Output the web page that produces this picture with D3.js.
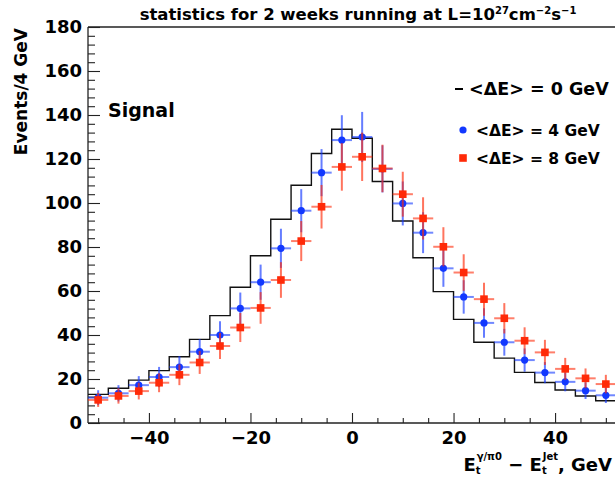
<!DOCTYPE html>
<html>
<head>
<meta charset="utf-8">
<script src="https://cdn.jsdelivr.net/npm/d3@7"></script>
<style>
  html, body { margin: 0; padding: 0; background: #fff; }
  svg { display: block; }
  text { font-family: "DejaVu Sans", sans-serif; fill: #000; }
</style>
</head>
<body>
<svg id="chart" width="615" height="481"></svg>
<script>
// ---- data ----
const binCenters = [-50,-46,-42,-38,-34,-30,-26,-22,-18,-14,-10,-6,-2,2,6,10,14,18,22,26,30,34,38,42,46,50];
const hist0GeV  = [13.0,15.8,19.5,23.8,30.1,38.0,48.8,61.7,76.0,92.6,108.1,122.5,133.5,129.4,109.8,91.8,75.1,59.7,47.1,36.7,29.5,23.0,18.4,15.0,12.3,10.1];
const pts4GeV   = [11.5,13.5,17.2,20.9,25.4,32.4,40.0,52.1,64.0,79.4,96.5,113.8,128.6,130.0,115.5,99.8,86.5,70.3,57.3,45.5,36.7,28.6,22.9,18.7,14.7,12.6];
const err4GeV   = [3.4,3.7,4.1,4.6,5.0,5.7,6.3,7.2,8.0,8.9,9.8,10.7,11.3,11.4,10.7,10.0,9.3,8.4,7.6,6.7,6.1,5.3,4.8,4.3,3.8,3.5];
const pts8GeV   = [10.5,12.3,14.5,18.3,21.9,27.5,35.0,43.4,52.3,65.0,82.7,98.3,116.4,121.0,115.7,104.0,93.0,80.1,68.4,56.3,47.6,37.4,32.1,24.6,20.3,17.7];
const err8GeV   = [3.2,3.5,3.8,4.3,4.7,5.2,5.9,6.6,7.2,8.1,9.1,9.9,10.8,11.0,10.8,10.2,9.6,8.9,8.3,7.5,6.9,6.1,5.7,5.0,4.5,4.2];
const binHalfWidth = 2;
const xMajorTicks = [-40,-20,0,20,40];
const xMinorTicks = [-50,-45,-35,-30,-25,-15,-10,-5,5,10,15,25,30,35,45,50];
const yMajorTicks = [0,20,40,60,80,100,120,140,160,180];
const yMinorTicks = d3.range(0, 181, 4).filter(v => v % 20 !== 0);
const legendLabels = ["<ΔE> = 0 GeV", "<ΔE> = 4 GeV", "<ΔE> = 8 GeV"];

(function () {
// ---- layout ----
const svg = d3.select("#chart");
const pL = 88, pR = 616, pT = 27, pB = 423;
const x = d3.scaleLinear().domain([-52, 52]).range([pL, pR]);
const y = d3.scaleLinear().domain([0, 180]).range([pB, pT]);
const blue = "#1238ff", red = "#ff2a08";

const fmt = d => d < 0 ? "\u2212" + Math.abs(d) : String(d);

// frame top line
svg.append("line").attr("x1", pL).attr("x2", 615).attr("y1", pT).attr("y2", pT)
  .attr("stroke", "#222").attr("stroke-width", 1.3);

// y axis
const gy = svg.append("g").attr("transform", `translate(${pL},0)`);
gy.call(d3.axisLeft(y).tickValues(yMajorTicks).tickSize(-12).tickPadding(8).tickFormat(fmt));
gy.append("g").call(d3.axisLeft(y).tickValues(yMinorTicks).tickSize(-7).tickFormat(""));
gy.selectAll("g g .domain").remove();
gy.selectAll(".domain").attr("stroke", "#222").attr("stroke-width", 1.3).attr("d", `M0,${pB}V${pT}`);
gy.selectAll(".tick line").attr("stroke", "#222").attr("stroke-width", 1.1);
gy.selectAll(".tick text").attr("font-size", 18).attr("font-weight", "bold")
  .attr("font-family", "DejaVu Sans").attr("fill", "#000").attr("x", -6);

// x axis
const gx = svg.append("g").attr("transform", `translate(0,${pB})`);
gx.call(d3.axisBottom(x).tickValues(xMajorTicks).tickSize(-10).tickPadding(17).tickFormat(fmt));
gx.append("g").call(d3.axisBottom(x).tickValues(xMinorTicks).tickSize(-5).tickFormat(""));
gx.selectAll("g g .domain").remove();
gx.selectAll(".domain").attr("stroke", "#222").attr("stroke-width", 1.3).attr("d", `M${pL},0H615`);
gx.selectAll(".tick line").attr("stroke", "#222").attr("stroke-width", 1.1);
gx.selectAll(".tick text").attr("font-size", 18).attr("font-weight", "bold")
  .attr("font-family", "DejaVu Sans").attr("fill", "#000").attr("dy", "0.2em");

// histogram (0 GeV)
const stepPts = binCenters.map((c, i) => [c - binHalfWidth, hist0GeV[i]]);
stepPts.push([binCenters[binCenters.length - 1] + binHalfWidth, hist0GeV[hist0GeV.length - 1]]);
svg.append("path")
  .attr("d", d3.line().x(d => x(d[0])).y(d => y(d[1])).curve(d3.curveStepAfter)(stepPts))
  .attr("fill", "none").attr("stroke", "#111").attr("stroke-width", 1.4);

function drawSeries(vals, errs, color, kind) {
  const g = svg.append("g");
  const data = binCenters.map((c, i) => ({c, v: vals[i], e: errs[i]}));
  g.selectAll("line.h").data(data).join("line").attr("class", "h")
    .attr("x1", d => x(d.c - binHalfWidth)).attr("x2", d => x(d.c + binHalfWidth))
    .attr("y1", d => y(d.v)).attr("y2", d => y(d.v))
    .attr("stroke", color).attr("stroke-width", 2).attr("stroke-opacity", 0.6);
  g.selectAll("line.v").data(data).join("line").attr("class", "v")
    .attr("x1", d => x(d.c)).attr("x2", d => x(d.c))
    .attr("y1", d => y(d.v - d.e)).attr("y2", d => y(d.v + d.e))
    .attr("stroke", color).attr("stroke-width", 2).attr("stroke-opacity", 0.65);
  if (kind === "circle") {
    g.selectAll("circle").data(data).join("circle")
      .attr("cx", d => x(d.c)).attr("cy", d => y(d.v)).attr("r", 3.6).attr("fill", color);
  } else {
    g.selectAll("rect").data(data).join("rect")
      .attr("x", d => x(d.c) - 3.8).attr("y", d => y(d.v) - 3.8)
      .attr("width", 7.6).attr("height", 7.6).attr("fill", color);
  }
}
drawSeries(pts4GeV, err4GeV, blue, "circle");
drawSeries(pts8GeV, err8GeV, red, "square");

// title
const title = svg.append("text").attr("x", 358).attr("y", 20).attr("text-anchor", "middle")
  .attr("font-size", 16.5).attr("font-weight", "bold");
title.append("tspan").text("statistics for 2 weeks running at L=10");
title.append("tspan").attr("font-size", 10).attr("dy", -6).text("27");
title.append("tspan").attr("dy", 6).text("cm");
title.append("tspan").attr("font-size", 10).attr("dy", -6).text("\u22122");
title.append("tspan").attr("dy", 6).text("s");
title.append("tspan").attr("font-size", 10).attr("dy", -6).text("\u22121");

// y title
svg.append("text").attr("transform", "translate(27,28) rotate(-90)").attr("text-anchor", "end")
  .attr("font-size", 17).attr("font-weight", "bold").text("Events/4 GeV");

// x title
const xt = svg.append("text").attr("x", 612).attr("y", 471).attr("text-anchor", "end")
  .attr("font-size", 18).attr("font-weight", "bold");
xt.append("tspan").text("E");
xt.append("tspan").attr("font-size", 10).attr("dy", 3).text("t");
xt.append("tspan").attr("font-size", 10).attr("dx", -4).attr("dy", -14).text("γ/π0");
xt.append("tspan").attr("dy", 11).text(" \u2212 E");
xt.append("tspan").attr("font-size", 10).attr("dy", 3).text("t");
xt.append("tspan").attr("font-size", 10).attr("dx", -4).attr("dy", -14).text("Jet");
xt.append("tspan").attr("dy", 11).text(", GeV");

// Signal label
svg.append("text").attr("x", 108).attr("y", 117).attr("font-size", 19).attr("font-weight", "bold")
  .text("Signal");

// legend
svg.append("line").attr("x1", 455).attr("x2", 463).attr("y1", 89).attr("y2", 89)
  .attr("stroke", "#000").attr("stroke-width", 2);
svg.append("text").attr("x", 469).attr("y", 95).attr("font-size", 17.5).attr("font-weight", "bold")
  .text(legendLabels[0]);
svg.append("circle").attr("cx", 463).attr("cy", 130).attr("r", 3.6).attr("fill", blue);
svg.append("text").attr("x", 476).attr("y", 136).attr("font-size", 15.5).attr("font-weight", "bold")
  .text(legendLabels[1]);
svg.append("rect").attr("x", 459.2).attr("y", 154.2).attr("width", 7.6).attr("height", 7.6).attr("fill", red);
svg.append("text").attr("x", 476).attr("y", 164).attr("font-size", 15.5).attr("font-weight", "bold")
  .text(legendLabels[2]);
})();
</script>
</body>
</html>
